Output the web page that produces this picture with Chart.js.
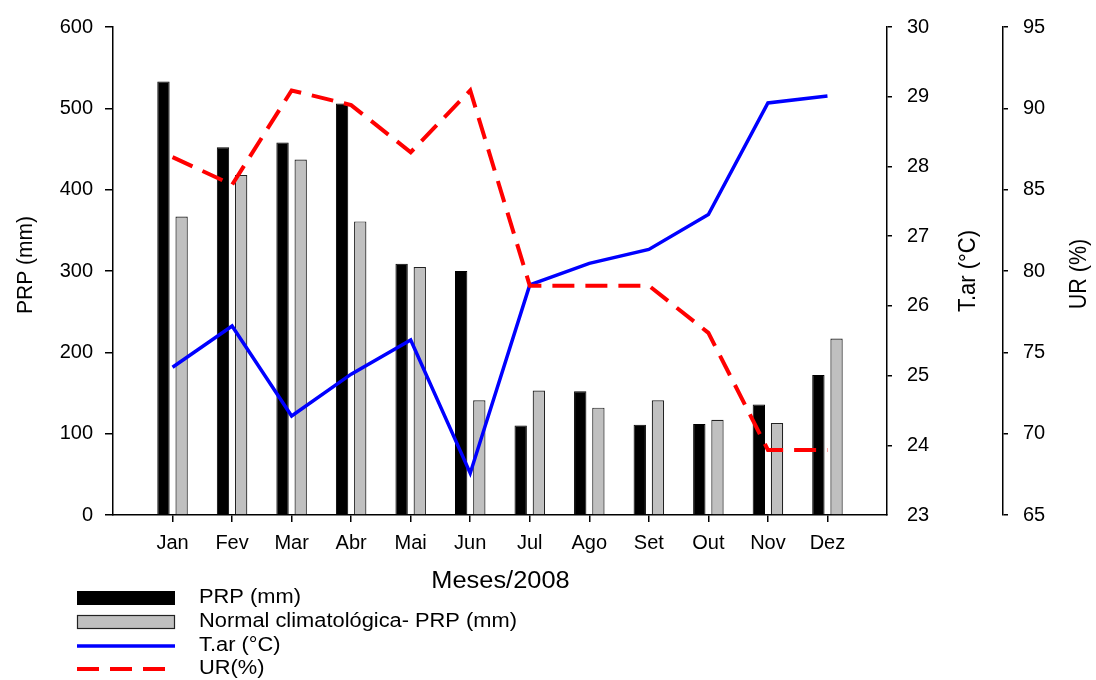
<!DOCTYPE html>
<html><head><meta charset="utf-8">
<script src="https://cdn.jsdelivr.net/npm/chart.js@4"></script>
<style>html,body{margin:0;padding:0;background:#fff}#wrap{width:1096px;height:680px}</style>
</head><body><div id="wrap"><canvas id="c" width="1096" height="680"></canvas></div>
<script>
const months = ['Jan','Fev','Mar','Abr','Mai','Jun','Jul','Ago','Set','Out','Nov','Dez'];
const prp = [533,452,458,506,309,300,110,152,111,112,136,172];
const prpNormal = [367,418,437,361,305,141,153,132,141,117,113,217];
const tar = [25.12,25.71,24.42,25.02,25.51,23.60,26.30,26.61,26.81,27.31,28.91,29.01];
const ur = [87.0,85.3,91.1,90.2,87.3,91.1,79.1,79.1,79.1,76.2,69.0,69.0];
const xTitle = 'Meses/2008';
const yTitle = 'PRP (mm)';
const tTitle = 'T.ar (°C)';
const uTitle = 'UR (%)';

const labels = ['', ...months, ''];
const pad = a => [null, ...a, null];
const FONT = "'Liberation Sans', Arial, sans-serif";
Chart.defaults.font.family = FONT;
Chart.defaults.color = '#000';

function txt(ctx, s, x, y, size, sx, rot, align) {
  ctx.save();
  ctx.translate(x, y);
  if (rot) ctx.rotate(rot);
  ctx.scale(rot ? 1 : sx, rot ? sx : 1);
  ctx.font = size + 'px ' + FONT;
  ctx.fillStyle = '#000';
  ctx.textAlign = align || 'center';
  ctx.textBaseline = 'middle';
  ctx.fillText(s, 0, 0);
  ctx.restore();
}

const customText = {
  id: 'customText',
  afterDraw(chart) {
    const ctx = chart.ctx;
    const ds = chart.data.datasets;
    const ca = chart.chartArea;
    const midY = (ca.top + ca.bottom) / 2;
    // axis titles
    txt(ctx, xTitle, (ca.left + ca.right) / 2 + 0.5, ca.bottom + 67, 23.5, 1.08, 0, 'center');
    txt(ctx, yTitle, 26, midY - 6, 21, 1.08, -Math.PI / 2, 'center');
    txt(ctx, tTitle, chart.scales.yT.left + 81, midY, 22, 1.08, -Math.PI / 2, 'center');
    txt(ctx, uTitle, chart.scales.yU.left + 77, midY + 3, 21.5, 1.08, -Math.PI / 2, 'center');
    // legend
    ctx.save();
    const x0 = 77, x1 = 175, tx = 199;
    const rows = [598, 622, 646, 669];
    [0, 1, 2, 3].forEach((i, r) => {
      const d = ds[i]; const y = rows[r];
      if (d.type === 'bar') {
        ctx.fillStyle = d.backgroundColor;
        ctx.fillRect(x0, y - 7, x1 - x0, 14);
        ctx.strokeStyle = d.borderColor; ctx.lineWidth = d.borderWidth;
        ctx.strokeRect(x0 + 0.5, y - 6.5, x1 - x0 - 1, 13);
      } else {
        ctx.strokeStyle = d.borderColor; ctx.lineWidth = d.borderWidth;
        ctx.setLineDash(d.borderDash || []);
        ctx.beginPath(); ctx.moveTo(x0, y); ctx.lineTo(d.borderDash ? 165 : x1, y); ctx.stroke();
        ctx.setLineDash([]);
      }
      txt(ctx, d.label, tx, y, 19.5, 1.12, 0, 'left');
    });
    ctx.restore();
  }
};

new Chart(document.getElementById('c'), {
  data: {
    labels,
    datasets: [
      { type: 'bar', label: 'PRP (mm)', data: pad(prp), yAxisID: 'y', backgroundColor: '#000', borderColor: '#000', borderWidth: 1, order: 2, categoryPercentage: 0.61, barPercentage: 0.68 },
      { type: 'bar', label: 'Normal climatológica- PRP (mm)', data: pad(prpNormal), yAxisID: 'y', backgroundColor: '#c0c0c0', borderColor: '#222', borderWidth: 1.2, order: 2, categoryPercentage: 0.61, barPercentage: 0.68 },
      { type: 'line', label: 'T.ar (°C)', data: pad(tar), yAxisID: 'yT', borderColor: '#0000ff', borderWidth: 3.5, pointRadius: 0, tension: 0, fill: false, order: 1 },
      { type: 'line', label: 'UR(%)', data: pad(ur), yAxisID: 'yU', borderColor: '#ff0000', borderWidth: 4, borderDash: [22, 11], pointRadius: 0, tension: 0, fill: false, order: 0 }
    ]
  },
  options: {
    responsive: false, animation: false, devicePixelRatio: 1,
    layout: { padding: { left: 0, right: 0, top: 25, bottom: 85 } },
    plugins: { legend: { display: false }, tooltip: { enabled: false } },
    scales: {
      x: {
        type: 'category', offset: false,
        grid: { offset: false, drawOnChartArea: false, tickLength: 7, lineWidth: 1.5, color: c => (c.index === 0 || c.index === 13) ? 'rgba(0,0,0,0)' : '#000' },
        border: { color: '#000', width: 1.5 },
        ticks: { color: '#000', font: { size: 20 }, padding: 9, maxRotation: 0, autoSkip: false },
        afterFit: s => { s.height = 80; }
      },
      y: {
        position: 'left', min: 0, max: 600,
        grid: { drawOnChartArea: false, tickLength: 8, lineWidth: 1.5, color: '#000' },
        border: { color: '#000', width: 1.5 },
        ticks: { stepSize: 100, color: '#000', font: { size: 20 }, padding: 12 },
        afterFit: s => { s.width = 113; }
      },
      yT: {
        position: 'right', min: 23, max: 30,
        grid: { drawOnChartArea: false, tickLength: 5, lineWidth: 1.5, color: c => c.index === 0 ? 'rgba(0,0,0,0)' : '#000' },
        border: { color: '#000', width: 1.5 },
        ticks: { stepSize: 1, color: '#000', font: { size: 20 }, padding: 15 },
        afterFit: s => { s.width = 116; }
      },
      yU: {
        position: 'right', min: 65, max: 95,
        grid: { drawOnChartArea: false, tickLength: 5, lineWidth: 1.5, color: '#000' },
        border: { color: '#000', width: 1.5 },
        ticks: { stepSize: 5, color: '#000', font: { size: 20 }, padding: 15 },
        afterFit: s => { s.width = 93; }
      }
    }
  },
  plugins: [customText]
});
</script>
</body></html>
